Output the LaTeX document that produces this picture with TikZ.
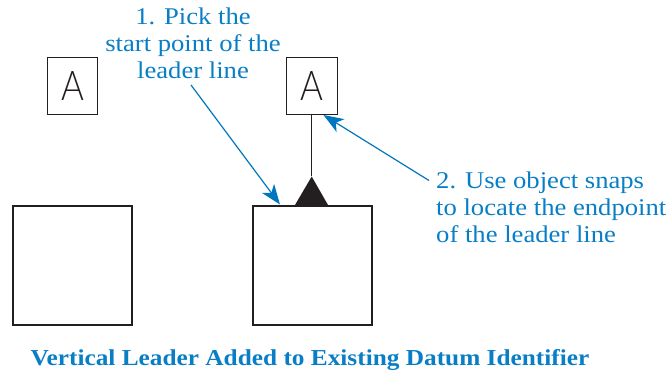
\documentclass[tikz,border=0pt]{standalone}
\usepackage{fontspec}
\setmainfont[FakeStretch=1.11]{Liberation Serif}
\newfontfamily\idfont[UprightFont=* Light,FakeStretch=0.85]{Lato}
\usetikzlibrary{arrows.meta}
\definecolor{callout}{RGB}{0,118,190}
\definecolor{calltext}{RGB}{8,126,198}
\definecolor{ink}{RGB}{35,31,32}
\tikzset{
 part/.style={draw=ink,line width=2.4pt,minimum size=119pt,inner sep=0,anchor=north west},
 idbox/.style={draw=ink,line width=1pt,minimum width=50.5pt,minimum height=57pt,inner sep=0,anchor=north west,font=\idfont\fontsize{41}{41}\selectfont,text=ink},
 note/.style={text=calltext,font=\fontsize{24}{27}\selectfont,inner sep=0},
 arrowline/.style={draw=callout,line width=1.2pt,-{Stealth[length=20pt,width=15pt,inset=5.5pt]}},
}
\begin{document}
\begin{tikzpicture}[x=1pt,y=-1pt]
\useasboundingbox (0,0) rectangle (670,374);
\node[part] (p1) at (12,205) {};
\node[part] (p2) at (251.7,205) {};
\node[idbox] (a1) at (46.7,56.7) {A};
\node[idbox] (a2) at (286.2,56.7) {A};
\coordinate (apex) at (311.7,176.5);
\fill[ink] (295,205) -- (apex) -- (328,205) -- cycle;
\draw[line width=1.1pt,ink] (a2.south -| apex) -- (apex);
\node[note,align=center,anchor=base] (n1) at (193,79) {1. Pick the\\start point of the\\leader line};
\node[note,align=left,anchor=base west] (n2) at (436,243) {2. Use object snaps\\to locate the endpoint\\of the leader line};
\coordinate (e1) at (280,204.5);
\coordinate (s1) at (191,85);
\coordinate (e2) at (323.5,115);
\coordinate (s2) at (429,180.5);
\draw[arrowline] (s1) -- (e1);
\draw[arrowline] (s2) -- (e2);
\node[text=calltext,font=\bfseries\fontsize{22.8}{27}\selectfont,anchor=base,inner sep=0] (cap) at (310,366) {Vertical Leader Added to Existing Datum Identifier};
\end{tikzpicture}
\end{document}
